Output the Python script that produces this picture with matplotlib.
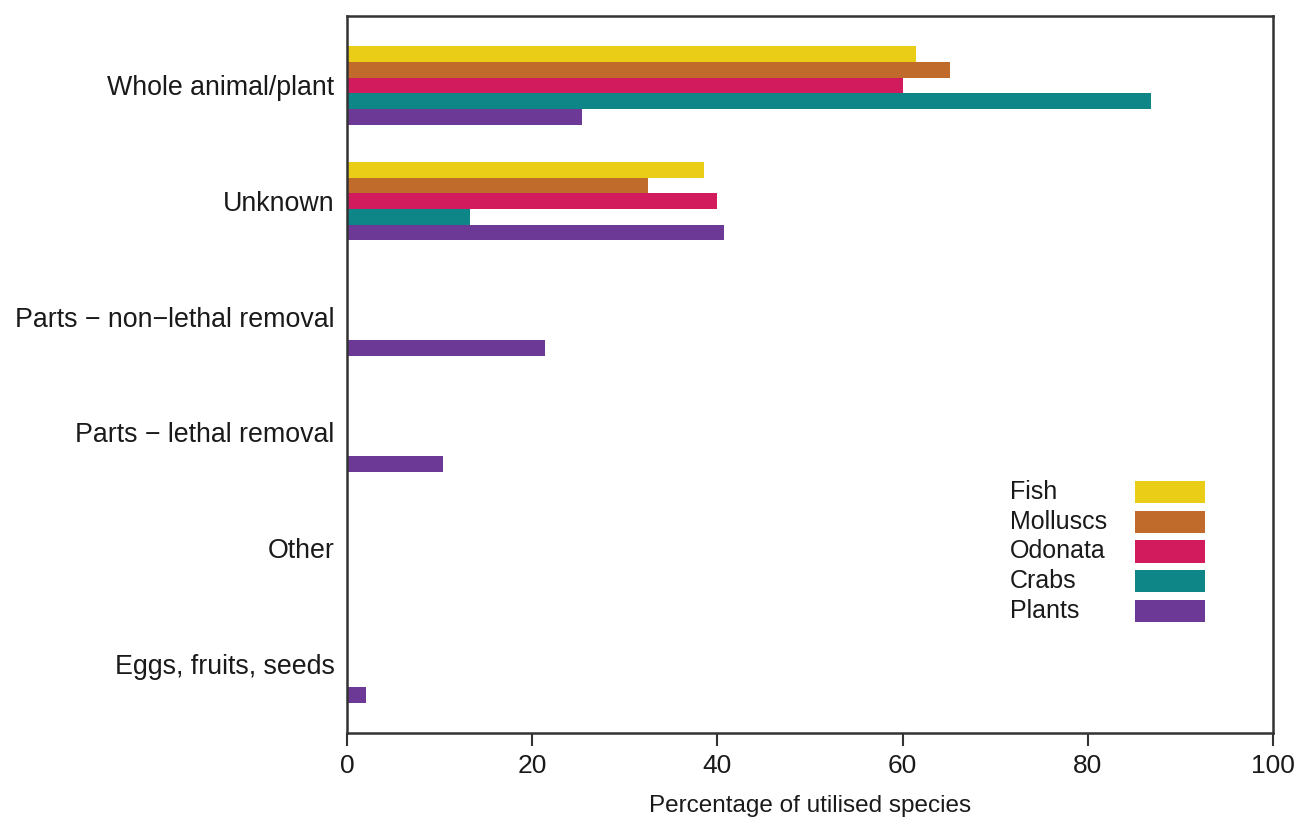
import numpy as np
import matplotlib.pyplot as plt

plt.rcParams['font.family'] = ['Liberation Sans', 'DejaVu Sans']

# categories top to bottom
categories = ["Whole animal/plant", "Unknown", "Parts \u2212 non\u2212lethal removal",
              "Parts \u2212 lethal removal", "Other", "Eggs, fruits, seeds"]

series_names = ["Fish", "Molluscs", "Odonata", "Crabs", "Plants"]
fish = [61.4, 38.6, 0, 0, 0, 0]
molluscs = [65.1, 32.5, 0, 0, 0, 0]
odonata = [60.0, 40.0, 0, 0, 0, 0]
crabs = [86.8, 13.3, 0, 0, 0, 0]
plants = [25.4, 40.7, 21.4, 10.4, 0, 2.0]
colors = ["#E9CD17", "#C06A2B", "#D21B5C", "#0E8688", "#6C3996"]

fig = plt.figure(figsize=(13.03, 8.22), dpi=100)
ax = fig.add_axes([0.2663, 0.108, 0.7107, 0.8725])

y = np.arange(len(categories))
h = 0.136
for i, (name, vals) in enumerate(zip(series_names, [fish, molluscs, odonata, crabs, plants])):
    ax.barh(y + (i - 2) * h, vals, height=h, color=colors[i], label=name)

ax.set_xlim(0, 100)
ax.set_ylim(len(categories) - 0.4, -0.6)
ax.set_yticks(y)
ax.set_yticklabels(categories, fontsize=19.3, color="#1a1a1a")
ax.set_xticks([0, 20, 40, 60, 80, 100])
ax.tick_params(axis='x', labelsize=19, direction='out', length=9, width=1.5,
               colors="#333333", labelcolor="#1a1a1a", pad=6)
ax.tick_params(axis='y', length=0, pad=9)
ax.set_xlabel("Percentage of utilised species", fontsize=17.5, color="#1a1a1a", labelpad=12)

for s in ax.spines.values():
    s.set_linewidth(1.8)
    s.set_color("#333333")

# legend: colour boxes only, labels left-aligned to their left
handles, labels = ax.get_legend_handles_labels()
leg = ax.legend(handles, [""] * len(handles), loc='upper right',
                bbox_to_anchor=(0.9266, 0.352), frameon=False,
                fontsize=18, handlelength=2.8, handleheight=1.0,
                handletextpad=0, labelspacing=0.2, borderpad=0, borderaxespad=0)

fig.canvas.draw()
renderer = fig.canvas.get_renderer()
inv = ax.transAxes.inverted()
label_x = (1010 - 347) / 926
for patch, name in zip(leg.get_patches(), labels):
    bb = patch.get_window_extent(renderer)
    _, yc = inv.transform((0, (bb.y0 + bb.y1) / 2))
    ax.text(label_x, yc, name, transform=ax.transAxes, fontsize=18,
            color="#1a1a1a", ha='left', va='center')

fig.savefig("out.png", dpi=100)
